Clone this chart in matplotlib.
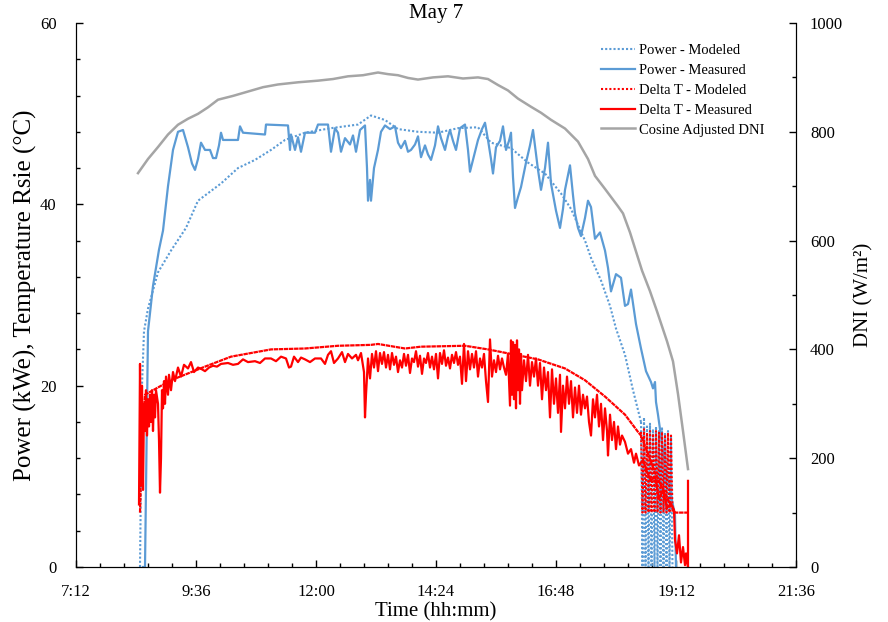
import numpy as np
import matplotlib
matplotlib.use('Agg')
import matplotlib.pyplot as plt
from matplotlib.lines import Line2D
from matplotlib.ticker import MultipleLocator, FuncFormatter

plt.rcParams['font.family'] = ['Liberation Serif', 'DejaVu Serif']

# time in decimal hours
dni_t = [8.44, 8.64, 8.84, 9.04, 9.24, 9.44, 9.64, 9.84, 10.04, 10.34, 10.64, 10.94, 11.24, 11.64,
         12.04, 12.34, 12.64, 12.94, 13.24, 13.44, 13.64, 13.84, 14.04, 14.34, 14.64, 14.94, 15.24,
         15.44, 15.64, 15.84, 16.04, 16.30, 16.50, 16.70, 16.98, 17.24, 17.44, 17.58, 17.78, 18.04,
         18.14, 18.28, 18.40, 18.52, 18.68, 18.82, 19.02, 19.14, 19.24, 19.34, 19.44]
dni_v = [724, 750, 772, 795, 813, 824, 833, 845, 859, 866, 874, 882, 887, 891,
         894, 897, 902, 904, 909, 906, 904, 899, 896, 900, 902, 898, 900,
         897, 886, 876, 861, 846, 835, 822, 806, 782, 750, 719, 695, 663,
         650, 615, 580, 545, 507, 470, 415, 378, 318, 250, 180]

pw_meas_t = [8.54, 8.58, 8.64, 8.74, 8.86, 8.94, 9.04, 9.14, 9.24, 9.34, 9.44, 9.52, 9.58, 9.64,
             9.70, 9.78, 9.88, 9.94, 10.00, 10.06, 10.10, 10.14, 10.44, 10.48, 10.54, 10.98, 11.00,
             11.44, 11.48, 11.50, 11.58, 11.64, 11.70, 11.78, 11.98, 12.04, 12.24, 12.30, 12.38,
             12.44, 12.50, 12.58, 12.68, 12.74, 12.80, 12.88, 12.98, 13.02, 13.04, 13.08, 13.10,
             13.16, 13.24, 13.30, 13.38, 13.48, 13.58, 13.64, 13.70, 13.78, 13.84, 13.90, 13.98,
             14.04, 14.10, 14.18, 14.24, 14.30, 14.38, 14.44, 14.50, 14.58, 14.64, 14.68, 14.74,
             14.80, 14.88, 14.98, 15.04, 15.08, 15.14, 15.24, 15.32, 15.38, 15.44, 15.50, 15.54,
             15.60, 15.68, 15.74, 15.80, 15.86, 15.90, 15.94, 15.98, 16.04, 16.10, 16.20, 16.28,
             16.34, 16.40, 16.44, 16.50, 16.58, 16.64, 16.70, 16.76, 16.80, 16.88, 16.94, 16.98,
             17.08, 17.14, 17.18, 17.24, 17.30, 17.38, 17.44, 17.50, 17.58, 17.68, 17.78, 17.84,
             17.90, 18.00, 18.10, 18.18, 18.24, 18.30, 18.40, 18.50, 18.60, 18.70, 18.74, 18.78,
             18.80, 18.84, 18.98, 19.10, 19.18, 19.20]
pw_meas_v = [0, 0, 26, 31, 35, 37.1, 42, 46, 48, 48.2, 46.3, 44.5, 43.8, 45,
             46.8, 46, 46, 45.1, 45.1, 46.5, 47.9, 47.1, 47.1, 48.6, 47.9, 47.7, 48.8,
             48.7, 46, 47.7, 46, 47.4, 45.8, 47.9, 47.9, 48.8, 48.8, 45.8, 48.4,
             47.9, 45.8, 47.3, 46.6, 47.6, 45.8, 48.2, 48.7, 44, 40.4, 42.7, 40.4,
             44, 46, 48, 48.7, 48.3, 48.6, 46.8, 46.2, 47, 45.8, 46, 46.6,
             47.5, 45.2, 46.5, 45.5, 44.9, 46.5, 48.6, 47.3, 46, 47.5, 48.2, 47,
             46, 48.4, 48.8, 46, 43.6, 44.9, 47.1, 48.3, 49, 47.1, 45, 43.4,
             46.3, 47, 48.6, 46, 47, 47.9, 43, 39.6, 40.8, 41.9, 44.6, 46.5,
             48.2, 45.5, 43.8, 41.6, 44, 46.8, 42.3, 40.5, 39.3, 37.4, 39.5, 41.6,
             44.3, 41, 39, 37.4, 36.5, 38.5, 40.4, 39.7, 36.2, 36.9, 34.9, 33,
             30.4, 32.3, 31.9, 28.8, 29, 30.6, 26.8, 24.1, 21.6, 20.4, 19.7, 20.4,
             18.2, 16.8, 11.2, 7.9, 5.7, 0]

pw_mod_t = [8.48, 8.50, 8.52, 8.56, 8.64, 8.84, 9.10, 9.40, 9.64, 10.10, 10.44, 10.78, 11.10,
            11.38, 11.78, 12.30, 12.84, 13.10, 13.38, 13.64, 14.04, 14.44, 14.84, 15.24, 15.50,
            15.90, 16.24, 16.58, 16.90, 17.10, 17.38, 17.50, 17.70, 17.88, 18.00, 18.18, 18.34,
            18.50]
pw_mod_v = [0, 10, 20, 26, 28.5, 32.5, 34.9, 37.4, 40.4, 42.3, 44, 44.9, 46,
            47.1, 47.9, 48.4, 48.8, 49.8, 49.3, 48.3, 48, 47.9, 48.4, 48.5, 46.8,
            46.2, 44.6, 43.4, 41.2, 39.5, 36, 34.1, 31.6, 28.8, 26.3, 23.4, 19.5,
            16]
pw_osc_t = [18.50, 18.53, 18.56, 18.59, 18.62, 18.65, 18.68, 18.71, 18.74, 18.77, 18.80,
            18.83, 18.86, 18.89, 18.92, 18.95, 18.98, 19.01, 19.04, 19.07, 19.10, 19.13]
pw_osc_v = [16, 0, 16.5, 0, 15.5, 0, 15.8, 0, 15.2, 0, 15.5,
            0, 15, 0, 15.3, 0, 14.8, 0, 15, 0, 14.5, 0]

dt_mod_t = [8.48, 8.52, 8.58, 9.10, 9.78, 10.30, 11.10, 11.78, 12.44, 13.10, 13.24, 13.78,
            14.10, 14.98, 15.44, 15.90, 16.44, 16.98, 17.38, 17.78, 18.18, 18.44, 18.50,
            18.64, 18.78, 18.92, 19.06, 19.18, 19.44]
dt_mod_v = [6, 15, 19, 20.6, 22.1, 23.2, 24, 24.1, 24.4, 24.5, 24.6, 24.1,
            24.3, 24.4, 24, 23.5, 22.9, 21.9, 20.6, 18.8, 16.8, 14.9, 14.5,
            12.5, 10.4, 8.8, 7.2, 6, 6]
dt_osc_t = [18.50, 18.53, 18.56, 18.59, 18.62, 18.65, 18.68, 18.71, 18.74, 18.77, 18.80,
            18.83, 18.86, 18.89, 18.92, 18.95, 18.98, 19.01, 19.04, 19.07, 19.10, 19.13]
dt_osc_v = [14.9, 6, 15.2, 6, 14.8, 6, 15, 6, 14.7, 6, 15,
            6, 14.8, 6, 14.9, 6, 14.6, 6, 14.8, 6, 14.5, 6]

dt_meas_t = [8.46, 8.48, 8.50, 8.52, 8.54, 8.56, 8.58, 8.60, 8.62, 8.64, 8.66, 8.68, 8.70,
             8.72, 8.74, 8.76, 8.78, 8.80, 8.84, 8.86, 8.88, 8.90, 8.92, 8.94, 8.96, 8.98,
             9.00, 9.04, 9.06, 9.10, 9.14, 9.18, 9.24, 9.30, 9.36, 9.44, 9.50, 9.56, 9.64,
             9.72, 9.78, 9.86, 9.94, 10.02, 10.10, 10.24, 10.34, 10.44, 10.54, 10.64, 10.78,
             10.88, 10.98, 11.10, 11.20, 11.30, 11.40, 11.46, 11.50, 11.56, 11.64, 11.70, 11.78,
             11.88, 11.98, 12.10, 12.18, 12.24, 12.30, 12.36, 12.44, 12.52, 12.58, 12.64, 12.72,
             12.80, 12.84, 12.90, 12.96, 12.98, 13.00, 13.04, 13.08, 13.12, 13.16, 13.20, 13.24,
             13.28, 13.32, 13.36, 13.40, 13.44, 13.48, 13.52, 13.56, 13.60, 13.64, 13.68, 13.72,
             13.76, 13.80, 13.84, 13.88, 13.92, 13.96, 14.00, 14.04, 14.08, 14.12, 14.16, 14.20,
             14.24, 14.28, 14.32, 14.36, 14.40, 14.44, 14.48, 14.52, 14.56, 14.60, 14.64, 14.68,
             14.72, 14.76, 14.80, 14.84, 14.88, 14.92, 14.96, 15.00, 15.04, 15.08, 15.12, 15.16,
             15.20, 15.24, 15.28, 15.32, 15.36, 15.40, 15.44, 15.48, 15.52, 15.56, 15.60, 15.64,
             15.68, 15.72, 15.76, 15.80, 15.84, 15.88, 15.90, 15.92, 15.94, 15.96, 15.98, 16.00,
             16.02, 16.04, 16.06, 16.08, 16.10, 16.12, 16.16, 16.20, 16.24, 16.28, 16.32, 16.36,
             16.40, 16.44, 16.48, 16.52, 16.56, 16.60, 16.64, 16.68, 16.72, 16.76, 16.80, 16.84,
             16.88, 16.90, 16.94, 16.98, 17.02, 17.06, 17.10, 17.14, 17.18, 17.22, 17.26, 17.30,
             17.34, 17.38, 17.42, 17.46, 17.50, 17.54, 17.58, 17.62, 17.66, 17.70, 17.74, 17.78,
             17.82, 17.84, 17.88, 17.92, 17.96, 18.00, 18.04, 18.08, 18.12, 18.18, 18.24, 18.30,
             18.36, 18.40, 18.46, 18.54, 18.62, 18.70, 18.78, 18.86, 18.94, 19.02, 19.10, 19.16,
             19.18, 19.22, 19.26, 19.30, 19.34, 19.38, 19.40, 19.44, 19.44]
dt_meas_v = [6.9, 22.4, 9, 20, 8.5, 18, 15, 19.5, 14.5, 18.5, 15.5, 19, 16,
             19.5, 15, 19, 16.5, 19.5, 18, 14, 8.2, 12, 19.5, 17.5, 20.5, 18,
             21, 19, 21.2, 19.5, 21.5, 20.5, 22, 21, 22.3, 21.9, 22.6, 21.5, 22,
             21.8, 21.6, 22, 22.2, 22.1, 22.4, 22.5, 22.3, 22.4, 22.9, 22.6, 22.7,
             22.5, 23, 23, 22.7, 23.2, 23, 22, 22.1, 23.2, 22.6, 23.1, 22.9,
             22.6, 23, 23, 22.4, 23.4, 23.8, 22.5, 23, 23.7, 22.6, 23.5, 23,
             23.4, 22.8, 23.6, 21.5, 16.5, 19, 23, 20.8, 23.5, 22, 23.8, 21.6,
             23.6, 22.4, 23.7, 22, 23.4, 21.8, 23.6, 22.3, 23.2, 21.5, 22.8, 22,
             23.5, 22.2, 23.4, 21.4, 23, 22.6, 23.8, 22.1, 23.3, 21.3, 23, 22.5,
             23.6, 22, 23.2, 21.8, 23.5, 20.8, 23.6, 22.4, 23.9, 22.2, 23.1, 21.9,
             23.4, 22.5, 23.7, 22.3, 23.2, 20.2, 24.6, 20.5, 23.8, 21.8, 23.5, 22,
             23.8, 21, 23, 22, 23.5, 20.5, 18.2, 25.1, 21, 22.8, 21.5, 23.3,
             21.8, 23, 22, 21.2, 23.5, 17.8, 25, 19, 24.8, 18.5, 24.5, 17.5,
             25, 19.5, 24, 18, 23.5, 19.5, 22.8, 20.5, 23.4, 20, 22.6, 21,
             23, 20, 22.5, 18.5, 22, 19.5, 21.5, 16.5, 21.8, 18, 20.8, 17,
             21.2, 14.9, 20, 17.5, 21, 18, 20.5, 16.5, 19.8, 17, 20, 16.8,
             19, 17.5, 18.8, 16, 14.5, 18.5, 16.5, 19, 15.5, 18, 14, 17.5,
             15, 12.3, 16.8, 14, 16, 13, 15.5, 13.5, 14.5, 13.8, 12.5, 13,
             11.5, 12.5, 11.2, 11.8, 10.5, 9.5, 10, 7.5, 8.5, 6.5, 7, 6.3,
             3, 1.5, 3.5, 0.5, 2.2, 0.2, 1.5, 0, 9.5]

blue = '#5B9BD5'
red = '#FF0000'
gray = '#A5A5A5'


def hhmm(x, pos):
    h = int(x)
    m = int(round((x - h) * 60))
    if m == 60:
        h += 1
        m = 0
    return '%d:%02d' % (h, m)


fig = plt.figure(figsize=(8.88, 6.22), dpi=100)
ax = fig.add_axes([76 / 888, 1 - 567 / 622, 720 / 888, 544 / 622])
ax2 = ax.twinx()

ax.plot(pw_mod_t, pw_mod_v, color=blue, lw=1.5, ls=(0, (1, 1)))
ax.plot(pw_osc_t, pw_osc_v, color=blue, lw=1.5, ls=(0, (1, 1)))
ax.plot(pw_meas_t, pw_meas_v, color=blue, lw=1.6)
ax.plot(dt_mod_t, dt_mod_v, color=red, lw=1.6, ls=(0, (2, 0.3)))
ax.plot(dt_osc_t, dt_osc_v, color=red, lw=1.5, ls=(0, (1, 1)))
ax.plot(dt_meas_t, dt_meas_v, color=red, lw=1.6)
ax2.plot(dni_t, dni_v, color=gray, lw=1.8)

ax.set_xlim(7.2, 21.6)
ax.set_ylim(0, 60)
ax2.set_ylim(0, 1000)
ax.xaxis.set_major_locator(MultipleLocator(2.4))
ax.xaxis.set_minor_locator(MultipleLocator(0.48))
ax.xaxis.set_major_formatter(FuncFormatter(hhmm))
ax.yaxis.set_major_locator(MultipleLocator(20))
ax.yaxis.set_minor_locator(MultipleLocator(4))
ax2.yaxis.set_major_locator(MultipleLocator(200))
ax2.yaxis.set_minor_locator(MultipleLocator(100))

for a in (ax, ax2):
    a.spines['top'].set_visible(False)
    a.tick_params(which='both', direction='in', labelsize=12, color='black')
    a.tick_params(which='major', length=5, width=1)
    a.tick_params(which='minor', length=3, width=1)
ax.tick_params(axis='x', pad=12)
ax.tick_params(axis='y', pad=14)
ax2.tick_params(axis='y', pad=10)

ax.set_xlabel('Time (hh:mm)', fontsize=15, labelpad=2)
ax.set_ylabel('Power (kWe), Temperature Rsie (\u00b0C)', fontsize=18, labelpad=2)
ax2.set_ylabel('DNI (W/m\u00b2)', fontsize=15, labelpad=8)
ax.set_title('May 7', fontsize=15, pad=3)

handles = [Line2D([], [], color=blue, lw=1.5, ls=(0, (1, 1))),
           Line2D([], [], color=blue, lw=1.6),
           Line2D([], [], color=red, lw=1.5, ls=(0, (1, 1))),
           Line2D([], [], color=red, lw=1.6),
           Line2D([], [], color=gray, lw=1.8)]
labels = ['Power - Modeled', 'Power - Measured', 'Delta T - Modeled',
          'Delta T - Measured', 'Cosine Adjusted DNI']
ax.legend(handles, labels, loc='upper right', bbox_to_anchor=(0.975, 0.985),
          frameon=False, fontsize=10.5, handlelength=2.3, handletextpad=0.3, labelspacing=0.45)

fig.savefig('out.png', dpi=100)
